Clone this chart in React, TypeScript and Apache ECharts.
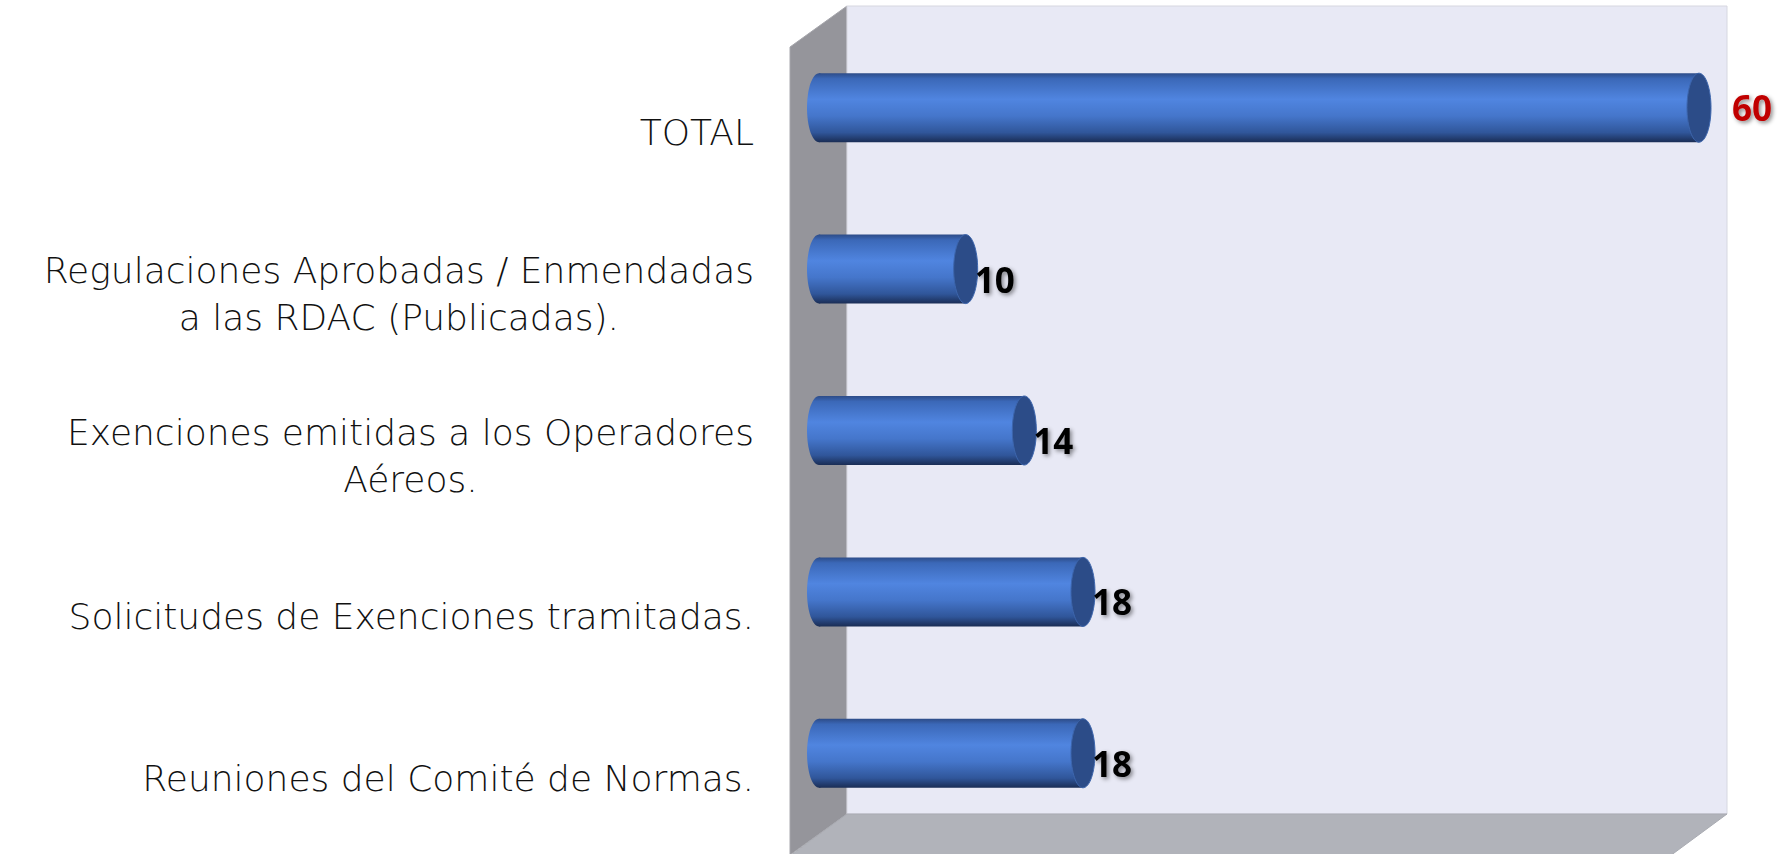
import React, { useEffect, useRef } from "react";
import * as echarts from "echarts";

const categories = [
  "TOTAL",
  "Regulaciones Aprobadas / Enmendadas\na las RDAC (Publicadas).",
  "Exenciones emitidas a los Operadores\nAéreos.",
  "Solicitudes de Exenciones tramitadas.",
  "Reuniones del Comité de Normas.",
];
const values = [60, 10, 14, 18, 18];
const axisMax = 60;

const BAR_H = 69;
const CAP_RX = 12;
const LABEL_FONT = "DejaVu Sans";

export default function App() {
  const ref = useRef<HTMLDivElement>(null);
  useEffect(() => {
    if (!ref.current) return;
    const chart = echarts.init(ref.current, null, { renderer: "svg" });
    const bodyGradient = {
      type: "linear",
      x: 0,
      y: 0,
      x2: 0,
      y2: 1,
      colorStops: [
        { offset: 0, color: "#2d4c88" },
        { offset: 0.08, color: "#3b68b8" },
        { offset: 0.38, color: "#5085e0" },
        { offset: 0.62, color: "#4576cb" },
        { offset: 0.86, color: "#30569a" },
        { offset: 1, color: "#1a2d55" },
      ],
    };
    const option: any = {
      animation: false,
      backgroundColor: "#ffffff",
      grid: { left: 819, right: 86, top: 27, bottom: 20 },
      xAxis: { type: "value", min: 0, max: axisMax, show: false },
      yAxis: {
        type: "category",
        data: categories,
        inverse: true,
        axisLine: { show: false },
        axisTick: { show: false },
        splitLine: { show: false },
        axisLabel: {
          margin: 65,
          color: "#111111",
          fontFamily: LABEL_FONT,
          fontWeight: 200,
          fontSize: 36,
          lineHeight: 47,
          padding: [50, 0, 0, 0],
          formatter: (v: string) =>
            v
              .split("\n")
              .map((l) => "{c|" + l + "}")
              .join("\n"),
          rich: {
            c: {
              align: "center",
              fontFamily: LABEL_FONT,
              fontWeight: 200,
              fontSize: 36,
              lineHeight: 47,
              color: "#111111",
            },
          },
        },
      },
      graphic: [
        {
          type: "polygon",
          z: 0,
          silent: true,
          shape: { points: [[790, 47], [847, 6], [847, 814], [790, 855]] },
          style: { fill: "#95959b", stroke: "#a6a6ac", lineWidth: 1 },
        },
        {
          type: "rect",
          z: 0,
          silent: true,
          shape: { x: 847, y: 6, width: 880, height: 808 },
          style: { fill: "#e8e9f5", stroke: "#d6d7e0", lineWidth: 1 },
        },
        {
          type: "polygon",
          z: 0,
          silent: true,
          shape: { points: [[847, 814], [1727, 814], [1670, 856], [790, 856]] },
          style: { fill: "#b1b3ba", stroke: "#a9abb2", lineWidth: 1 },
        },
      ],
      series: [
        {
          type: "custom",
          z: 3,
          silent: true,
          data: values.map((v, i) => [v, i]),
          encode: { x: 0, y: 1 },
          renderItem: (params: any, api: any) => {
            const v = api.value(0);
            const i = api.value(1);
            const s = api.coord([0, i]);
            const e = api.coord([v, i]);
            return {
              type: "group",
              children: [
                {
                  type: "ellipse",
                  shape: { cx: s[0], cy: s[1], rx: CAP_RX, ry: BAR_H / 2 },
                  style: { fill: bodyGradient },
                },
                {
                  type: "rect",
                  shape: { x: s[0], y: s[1] - BAR_H / 2, width: e[0] - s[0], height: BAR_H },
                  style: { fill: bodyGradient },
                },
                {
                  type: "ellipse",
                  shape: { cx: e[0], cy: e[1], rx: CAP_RX, ry: BAR_H / 2 },
                  style: { fill: "#2c4c88", stroke: "#3d66ad", lineWidth: 1 },
                },
              ],
            };
          },
        },
        {
          type: "bar",
          z: 4,
          silent: true,
          barWidth: BAR_H,
          itemStyle: { color: "rgba(0,0,0,0)" },
          label: {
            show: true,
            position: "right",
            distance: 9,
            offset: [0, 10],
            color: "#000000",
            fontFamily: "Open Sans",
            fontWeight: "bold",
            fontSize: 35,
            textShadowColor: "rgba(0,0,0,0.45)",
            textShadowBlur: 4,
            textShadowOffsetX: 2,
            textShadowOffsetY: 2,
          },
          data: values.map((v, i) =>
            i === 0
              ? { value: v, label: { color: "#c00000", distance: 33, offset: [0, 0] } }
              : v
          ),
        },
      ],
    };
    chart.setOption(option);
    return () => chart.dispose();
  }, []);
  return (
    <div
      ref={ref}
      style={{ position: "absolute", left: 0, top: 0, width: 1785, height: 854 }}
    />
  );
}
